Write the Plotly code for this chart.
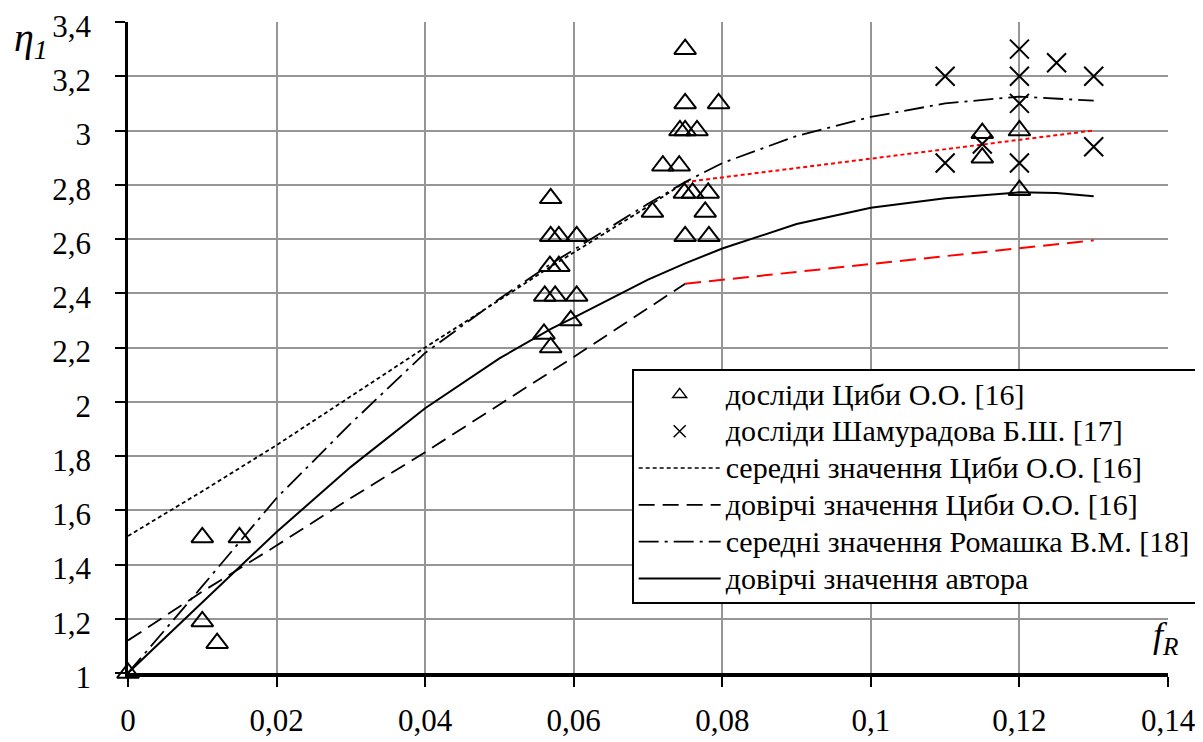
import plotly.graph_objects as go

# ---- data ----
tsyba_x = [0, 0.01, 0.015, 0.01, 0.012,
           0.0569, 0.0569, 0.058, 0.0604, 0.0568, 0.058, 0.0561, 0.0575, 0.0604, 0.0596, 0.056, 0.0569,
           0.075, 0.075, 0.0795, 0.0743, 0.075, 0.0766, 0.072, 0.0742, 0.0749, 0.076, 0.0781, 0.0706, 0.0777,
           0.075, 0.0782, 0.115, 0.115, 0.12, 0.12]
tsyba_y = [1.0, 1.5, 1.5, 1.19, 1.11,
           2.75, 2.61, 2.61, 2.61, 2.5, 2.5, 2.39, 2.39, 2.39, 2.30, 2.25, 2.2,
           3.3, 3.1, 3.1, 3.0, 3.0, 3.0, 2.87, 2.87, 2.77, 2.77, 2.77, 2.7, 2.7,
           2.61, 2.61, 2.99, 2.9, 3.0, 2.78]

sham_x = [0.11, 0.11, 0.115, 0.12, 0.12, 0.12, 0.12, 0.125, 0.13, 0.13]
sham_y = [3.2, 2.88, 2.95, 3.3, 3.2, 3.1, 2.88, 3.25, 3.2, 2.94]

avg_ts_x = [0, 0.01, 0.02, 0.03, 0.04, 0.05, 0.057, 0.06, 0.07, 0.075]
avg_ts_y = [1.505, 1.67, 1.84, 2.02, 2.2, 2.375, 2.50, 2.55, 2.72, 2.81]
avg_ts_ext_x = [0.075, 0.13]
avg_ts_ext_y = [2.81, 3.0]

conf_ts_x = [0, 0.01, 0.02, 0.03, 0.04, 0.05, 0.057, 0.06, 0.07, 0.075]
conf_ts_y = [1.12, 1.30, 1.47, 1.645, 1.814, 1.99, 2.11, 2.165, 2.345, 2.435]
conf_ts_ext_x = [0.075, 0.13]
conf_ts_ext_y = [2.435, 2.595]

rom_x = [0, 0.01, 0.02, 0.03, 0.04, 0.045, 0.05, 0.057, 0.06, 0.07, 0.075, 0.08, 0.09, 0.1, 0.11, 0.12, 0.13]
rom_y = [1.0, 1.32, 1.645, 1.92, 2.18, 2.28, 2.38, 2.51, 2.56, 2.73, 2.81, 2.88, 2.98, 3.05, 3.10, 3.125, 3.11]

auth_x = [0, 0.01, 0.02, 0.03, 0.04, 0.05, 0.057, 0.06, 0.07, 0.075, 0.08, 0.09, 0.1, 0.11, 0.12, 0.125, 0.13]
auth_y = [1.0, 1.26, 1.52, 1.76, 1.976, 2.16, 2.27, 2.31, 2.45, 2.51, 2.565, 2.655, 2.715, 2.75, 2.772, 2.77, 2.758]

x_ticks = [0, 0.02, 0.04, 0.06, 0.08, 0.1, 0.12, 0.14]
x_tick_text = ["0", "0,02", "0,04", "0,06", "0,08", "0,1", "0,12", "0,14"]
y_ticks = [1, 1.2, 1.4, 1.6, 1.8, 2, 2.2, 2.4, 2.6, 2.8, 3, 3.2, 3.4]
y_tick_text = ["1", "1,2", "1,4", "1,6", "1,8", "2", "2,2", "2,4", "2,6", "2,8", "3", "3,2", "3,4"]

names = ["досліди Циби О.О. [16]",
         "досліди Шамурадова Б.Ш. [17]",
         "середні значення Циби О.О. [16]",
         "довірчі значення Циби О.О. [16]",
         "середні значення Ромашка В.М. [18]",
         "довірчі значення автора"]

FONT = "Liberation Serif, Tinos, Times New Roman, DejaVu Serif, serif"
DOT = "4px,3px"
DASH = "16px,8px"
DASHDOT = "20px,6px,3px,6px"


def leg(name):
    # wider legend text while keeping the compact row spacing
    return "<span style='font-size:30px'>" + name + "</span>"


fig = go.Figure()

# lines
fig.add_trace(go.Scatter(x=avg_ts_x, y=avg_ts_y, mode="lines", name=names[2],
                         line=dict(color="black", width=1.8, dash=DOT), showlegend=False))
fig.add_trace(go.Scatter(x=avg_ts_ext_x, y=avg_ts_ext_y, mode="lines",
                         line=dict(color="red", width=2, dash=DOT), showlegend=False))
fig.add_trace(go.Scatter(x=conf_ts_x, y=conf_ts_y, mode="lines", name=names[3],
                         line=dict(color="black", width=1.8, dash=DASH), showlegend=False))
fig.add_trace(go.Scatter(x=conf_ts_ext_x, y=conf_ts_ext_y, mode="lines",
                         line=dict(color="red", width=2, dash=DASH), showlegend=False))
fig.add_trace(go.Scatter(x=rom_x, y=rom_y, mode="lines", name=names[4],
                         line=dict(color="black", width=1.8, dash=DASHDOT), showlegend=False))
fig.add_trace(go.Scatter(x=auth_x, y=auth_y, mode="lines", name=names[5],
                         line=dict(color="black", width=2), showlegend=False))

# markers
fig.add_trace(go.Scatter(x=tsyba_x, y=tsyba_y, mode="markers", name=names[0], showlegend=False,
                         marker=dict(symbol="triangle-up-open", size=19, color="black",
                                     line=dict(width=2, color="black")), cliponaxis=False))
fig.add_trace(go.Scatter(x=sham_x, y=sham_y, mode="markers", name=names[1], showlegend=False,
                         marker=dict(symbol="x-thin-open", size=19, color="black",
                                     line=dict(width=2, color="black")), cliponaxis=False))

# legend entries
fig.add_trace(go.Scatter(x=[None], y=[None], mode="markers", name=leg(names[0]),
                         marker=dict(symbol="triangle-up-open", size=12, color="black",
                                     line=dict(width=1.5, color="black"))))
fig.add_trace(go.Scatter(x=[None], y=[None], mode="markers", name=leg(names[1]),
                         marker=dict(symbol="x-thin-open", size=12, color="black",
                                     line=dict(width=1.5, color="black"))))
fig.add_trace(go.Scatter(x=[None], y=[None], mode="lines", name=leg(names[2]),
                         line=dict(color="black", width=1.5, dash=DOT)))
fig.add_trace(go.Scatter(x=[None], y=[None], mode="lines", name=leg(names[3]),
                         line=dict(color="black", width=1.8, dash=DASH)))
fig.add_trace(go.Scatter(x=[None], y=[None], mode="lines", name=leg(names[4]),
                         line=dict(color="black", width=1.8, dash=DASHDOT)))
fig.add_trace(go.Scatter(x=[None], y=[None], mode="lines", name=leg(names[5]),
                         line=dict(color="black", width=2)))

# page has an 8px default body margin -> figure occupies 8..1203 / 8..742
fig.update_layout(
    width=1195, height=734,
    margin=dict(l=120, r=35, t=14, b=69, autoexpand=False),
    paper_bgcolor="white", plot_bgcolor="white",
    font=dict(family=FONT, size=30, color="black"),
    showlegend=True,
    legend=dict(x=0.4843, y=0.467, xanchor="left", yanchor="top",
                bgcolor="white", bordercolor="black", borderwidth=2,
                font=dict(family=FONT, size=26, color="black"),
                itemwidth=82, tracegroupgap=0),
    xaxis=dict(range=[0, 0.14], tickvals=x_ticks, ticktext=x_tick_text,
               showgrid=True, gridcolor="#969696", gridwidth=2,
               showline=True, linecolor="black", linewidth=3.5,
               ticks="outside", ticklen=10, tickwidth=2, tickcolor="black",
               zeroline=False, ticklabelstandoff=7, automargin=False,
               ticklabeloverflow="allow",
               tickfont=dict(family=FONT, size=31, color="black")),
    yaxis=dict(range=[1, 3.40001], tickvals=y_ticks, ticktext=y_tick_text,
               showgrid=True, gridcolor="#969696", gridwidth=2,
               showline=True, linecolor="black", linewidth=2.5,
               ticks="outside", ticklen=10, tickwidth=2, tickcolor="black",
               zeroline=False, ticklabelstandoff=18, ticklabelshift=4, automargin=False,
               ticklabeloverflow="allow",
               tickfont=dict(family=FONT, size=31, color="black")),
    annotations=[
        dict(text="<i>η<sub>1</sub></i>", xref="paper", yref="paper",
             x=-0.1115, y=0.972, xanchor="left", yanchor="middle", showarrow=False,
             font=dict(family=FONT, size=40, color="black")),
        dict(text="<i>f<sub>R</sub></i>", xref="paper", yref="paper",
             x=0.984, y=0.055, xanchor="left", yanchor="middle", showarrow=False,
             font=dict(family=FONT, size=36, color="black")),
    ],
)

fig.write_html("out.html")
